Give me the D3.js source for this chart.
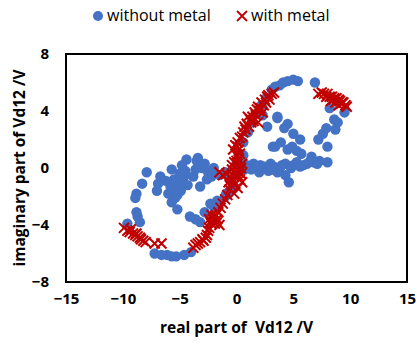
<!DOCTYPE html>
<html>
<head>
<meta charset="utf-8">
<script src="https://cdn.jsdelivr.net/npm/d3@7"></script>
<style>
  body { margin: 0; background: #fff; }
  text { font-family: "Open Sans", sans-serif; white-space: pre; }
</style>
</head>
<body>
<div id="chart"></div>
<script>
// data
const withoutMetalX = [
  0.3, 0.6, 1.0, 1.4, 1.8, 2.2, 2.6, 3.1, 3.8, 4.5, 5.4, 6.9, 3.4, 4.1, 5.0,
  8.2, 9.5, 8.6, 7.9, 8.7, 7.2, 8.0, 8.0, 7.3, 6.6, 5.7, 8.9, 7.6,
  3.6, 4.5, 5.0, 5.6, 4.9, 3.4, 4.5, 3.2, 2.3, 3.6, 4.2, 5.3, 2.7, 3.9,
  0.9, 1.3, 1.8, 2.3, 2.8, 3.3, 3.8, 4.3, 4.3, 4.6, 5.0, 5.6, 6.2, 6.8, 3.0, 2.0, 3.6, 1.5,
  1.1, 2.5, 4.0, 4.8, 5.3, 5.9, 6.5, 7.1, 0.7, 2.1, 3.2,
  -3.5, -3.0, -2.5, -2.0, -3.8, -3.2, -2.6, -1.5, -1.0, -4.4, -4.8, -3.4, -2.8, -2.2, -3.6,
  -5.7, -6.7, -7.9, -8.3, -8.8, -8.9, -6.9, -7.0, -5.1, -5.8, -6.0, -5.2, -5.7, -5.2,
  -5.5, -4.6, -4.3, -4.9, -8.8, -8.7, -9.6, -8.5, -5.3, -4.7, -5.0, -6.2, -5.4, -4.5,
  -7.2, -6.1, -5.3, -4.6, -4.0, -6.6, -5.7,
  -4.1, -3.2, -2.3, -1.7, -1.6, -0.9, -2.0, -1.0, -3.6, -2.8,
  -0.5, 0.0, 0.4, -0.3, 0.6, -0.6
];
const withoutMetalY = [
  1.0, 1.8, 2.5, 3.2, 3.8, 4.4, 4.9, 5.5, 5.8, 6.1, 6.1, 6.0, 5.7, 6.0, 6.2,
  4.2, 3.9, 3.4, 2.8, 2.7, 2.0, 1.5, 0.4, 0.5, 0.8, 1.0, 3.2, 2.4,
  3.6, 3.1, 2.4, 2.0, 1.5, 1.5, 1.3, 1.5, 3.7, 3.5, 2.8, 1.2, 2.9, 1.8,
  0.2, -0.1, 0.1, 0.0, -0.2, 0.1, 0.0, 0.3, -0.5, -1.0, 0.2, 0.1, 0.3, 0.4, 0.3, -0.3, -0.3, 0.3,
  0.0, 0.1, 0.2, 0.0, 0.4, 0.2, 0.5, 0.3, -0.1, 0.2, -0.1,
  0.5, 0.0, -0.3, 0.0, -0.6, -1.3, -0.8, -0.5, -0.3, 0.6, 0.2, 0.7, 0.3, -0.6, -0.1,
  -0.1, -0.6, -0.3, -1.1, -1.8, -2.1, -1.1, -1.6, -1.1, -1.3, -1.8, -1.9, -2.4, -2.9,
  -0.8, -0.6, -1.2, -1.6, -3.1, -3.4, -3.9, -3.8, -1.5, -1.0, -0.4, -0.9, -2.1, -0.2,
  -6.0, -6.1, -6.2, -6.1, -5.9, -6.1, -6.2,
  -3.4, -3.8, -2.5, -2.3, -2.6, -1.8, -2.7, -2.0, -3.6, -3.1,
  -0.8, 0.3, 0.6, -1.2, 0.9, -1.6
];
const withMetalX = [
  -9.9, -9.6, -9.4, -9.1, -8.9, -8.7, -8.5, -8.2, -8.0, -7.2, -6.6, -9.3, -8.8, -8.4,
  -3.8, -3.6, -3.4, -3.2, -2.9, -2.6, -2.4, -2.3, -2.1, -1.9, -1.5, -1.6, -1.4, -1.2,
  -3.0, -2.7, -2.5, -2.2, -2.0, -1.8, -1.7, -2.2, -1.9, -1.7, -2.4,
  -1.0, -0.8, -0.6, -0.5, -0.3, -0.2, -0.1, 0.0, 0.1, 0.2, -1.5, -1.2, -0.9, -0.6, 0.3, 0.5,
  0.2, -0.4, 0.0, 0.2, 0.1, 0.3, -0.3, 0.5, 0.1, -0.2, -0.7, -0.4, 0.4, 0.0, -0.1, 0.3,
  -0.5, 0.2, -0.2, 0.4, -0.1, 0.1,
  0.6, 0.7, 0.9, 1.2, 1.4, 1.6, 1.7, 1.9, 2.0, 2.2, 2.4, 2.5, 2.7, 2.9, 3.1, 3.3, 1.0, 1.5, 2.3, 1.9,
  0.5, 0.8, 1.1, 1.3, 1.8, 2.1, 2.6, 2.8,
  7.2, 7.5, 7.7, 8.0, 8.2, 8.4, 8.6, 8.8, 9.0, 9.1, 9.3, 9.4, 9.6, 9.7, 8.3, 8.7, 9.0, 7.9, 8.5, 9.2
];
const withMetalY = [
  -4.2, -4.4, -4.5, -4.6, -4.7, -4.8, -4.9, -5.1, -5.2, -5.3, -5.3, -4.3, -4.6, -5.0,
  -5.6, -5.4, -5.3, -5.2, -5.1, -4.7, -4.2, -3.8, -3.6, -3.4, -4.0, -3.1, -2.8, -2.5,
  -5.0, -4.9, -4.4, -3.9, -3.5, -3.3, -3.8, -3.3, -3.9, -3.6, -3.6,
  -2.2, -1.9, -1.5, -1.2, -0.9, -0.6, -0.3, 0.0, 0.3, 0.6, -0.3, -0.5, -0.4, -0.6, -0.8, -1.0,
  -0.3, 0.2, 0.9, 1.3, 1.8, 2.1, 1.3, 0.3, -1.4, -1.8, -1.0, -0.1, 0.0, 0.5, 1.6, 1.0,
  -0.7, -0.6, 0.4, -0.4, -1.1, 1.5,
  2.5, 2.9, 3.1, 3.4, 3.6, 3.9, 3.7, 4.3, 4.0, 4.6, 4.4, 4.8, 5.0, 4.8, 5.2, 5.3, 3.6, 3.3, 3.9, 3.2,
  2.2, 2.7, 2.9, 3.2, 4.1, 4.2, 4.6, 5.1,
  5.2, 5.3, 5.2, 5.2, 5.0, 5.0, 4.9, 4.9, 4.8, 4.7, 4.6, 4.6, 4.4, 4.3, 4.7, 4.6, 4.4, 5.0, 4.8, 4.5
];
const seriesNames = ["without metal", "with metal"];
const xTicks = [-15, -10, -5, 0, 5, 10, 15];
const yTicks = [-8, -4, 0, 4, 8];

const width = 418, height = 349;
const margin = { top: 54, right: 11, bottom: 67, left: 66 };
const blue = "#4472C4", red = "#C00000";

const svg = d3.select("#chart").append("svg")
  .attr("width", width)
  .attr("height", height);

const x = d3.scaleLinear().domain([-15, 15]).range([margin.left, width - margin.right]);
const y = d3.scaleLinear().domain([-8, 8]).range([height - margin.bottom, margin.top]);

// x axis labels
svg.append("g")
  .attr("transform", `translate(0, ${height - margin.bottom + 8})`)
  .call(d3.axisBottom(x).tickValues(xTicks).tickSize(0).tickFormat(d3.format("d")))
  .call(g => g.select(".domain").remove())
  .selectAll("text")
  .attr("font-family", "Open Sans, sans-serif")
  .attr("font-size", 15)
  .attr("font-weight", "bold")
  .attr("fill", "#000");

// y axis labels
svg.append("g")
  .attr("transform", `translate(${margin.left - 14}, 0)`)
  .call(d3.axisLeft(y).tickValues(yTicks).tickSize(0).tickFormat(d3.format("d")))
  .call(g => g.select(".domain").remove())
  .selectAll("text")
  .attr("font-family", "Open Sans, sans-serif")
  .attr("font-size", 15)
  .attr("font-weight", "bold")
  .attr("fill", "#000");

// points without metal
svg.append("g")
  .selectAll("circle")
  .data(d3.range(withoutMetalX.length))
  .enter()
  .append("circle")
  .attr("cx", i => x(withoutMetalX[i]))
  .attr("cy", i => y(withoutMetalY[i]))
  .attr("r", 5.2)
  .style("fill", blue);

// points with metal (crosses)
const s = 5;
svg.append("g")
  .selectAll("path")
  .data(d3.range(withMetalX.length))
  .enter()
  .append("path")
  .attr("d", i => {
    const cx = x(withMetalX[i]), cy = y(withMetalY[i]);
    return `M${cx - s},${cy - s}L${cx + s},${cy + s}M${cx - s},${cy + s}L${cx + s},${cy - s}`;
  })
  .style("stroke", red)
  .style("stroke-width", 2)
  .style("fill", "none");

// plot frame
svg.append("rect")
  .attr("x", margin.left)
  .attr("y", margin.top)
  .attr("width", width - margin.left - margin.right)
  .attr("height", height - margin.top - margin.bottom)
  .style("fill", "none")
  .style("stroke", "#000")
  .style("stroke-width", 2);

// axis titles
svg.append("text")
  .attr("x", (margin.left + width - margin.right) / 2)
  .attr("y", 333)
  .attr("text-anchor", "middle")
  .attr("font-size", 15.5)
  .attr("font-weight", "bold")
  .text("real part of  Vd12 /V");

svg.append("text")
  .attr("transform", `translate(25, ${(margin.top + height - margin.bottom) / 2}) rotate(-90)`)
  .attr("text-anchor", "middle")
  .attr("font-size", 15.5)
  .attr("font-weight", "bold")
  .text("imaginary part of Vd12 /V");

// legend
const legend = svg.append("g");
legend.append("circle").attr("cx", 98).attr("cy", 16).attr("r", 5).style("fill", blue);
legend.append("text").attr("x", 107).attr("y", 21).attr("font-size", 16).text(seriesNames[0]);
legend.append("path")
  .attr("d", "M237,11L247,21M237,21L247,11")
  .style("stroke", red).style("stroke-width", 1.8);
legend.append("text").attr("x", 251).attr("y", 21).attr("font-size", 16).text(seriesNames[1]);
</script>
</body>
</html>
